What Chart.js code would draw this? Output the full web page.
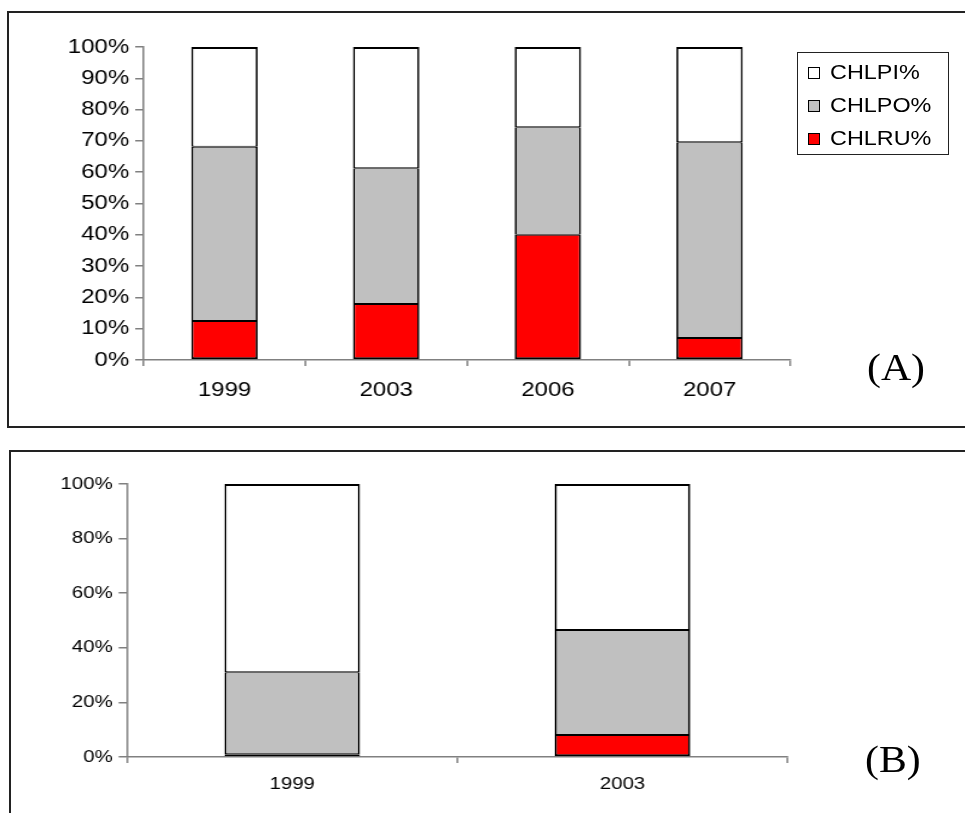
<!DOCTYPE html>
<html>
<head>
<meta charset="utf-8">
<script src="https://cdn.jsdelivr.net/npm/chart.js@4.4.0/dist/chart.umd.min.js"></script>
<style>
  body { margin: 0; background: #fff; width: 965px; height: 813px; overflow: hidden; position: relative; font-family: "Liberation Sans", Arial, sans-serif; }
  .panel { position: absolute; border: 2px solid #222; box-sizing: border-box; }
  #panelA { left: 7px; top: 11px; width: 990px; height: 417px; }
  #panelB { left: 9px; top: 450px; width: 990px; height: 400px; }
  canvas { position: absolute; transform-origin: 0 0; transform: scaleX(1.2); }
  #chartA { left: 8px; top: 12px; }
  #chartB { left: 10px; top: 451px; }
  .tag { position: absolute; font-family: "Liberation Serif", "Times New Roman", serif; font-size: 38px; line-height: 38px; color: #000; transform-origin: 0 0; transform: scaleX(1.1); }
  #legendA { position: absolute; left: 797px; top: 52px; width: 152px; height: 103px; border: 1.5px solid #222; box-sizing: border-box; }
  .item { position: absolute; left: 10px; height: 20px; }
  .sw { position: absolute; left: 0; top: 4px; width: 12px; height: 12px; border: 1.5px solid #000; box-sizing: border-box; }
  .lbl { position: absolute; left: 22px; top: -2px; font-size: 20px; line-height: 22px; white-space: nowrap; transform-origin: 0 0; transform: scaleX(1.17); }
</style>
</head>
<body>
<div class="panel" id="panelA"></div>
<div class="panel" id="panelB"></div>
<canvas id="chartA" width="798" height="415"></canvas>
<canvas id="chartB" width="796" height="362"></canvas>
<div id="legendA"></div>
<div class="tag" style="left:867px; top:348px;">(A)</div>
<div class="tag" style="left:865px; top:740px;">(B)</div>
<script>
// séries (percentuais)
const seriesNames = ['CHLRU%', 'CHLPO%', 'CHLPI%'];
const seriesColors = ['#ff0000', '#c0c0c0', '#ffffff'];

// Painel A
const anosA = ['1999', '2003', '2006', '2007'];
const chlruA = [12.5, 17.9, 40.0, 7.0];
const chlpoA = [55.6, 43.4, 34.4, 62.6];
const chlpiA = [31.9, 38.7, 25.6, 30.4];
const ticksA = [0, 10, 20, 30, 40, 50, 60, 70, 80, 90, 100];

// Painel B
const anosB = ['1999', '2003'];
const chlruB = [1.0, 8.1];
const chlpoB = [30.0, 38.4];
const chlpiB = [69.0, 53.5];
const ticksB = [0, 20, 40, 60, 80, 100];

// bordas: 1px nas junções internas (somam 2px), 2px nas extremidades
function bordaSegmento(i, n) {
  return { left: 1.7, right: 1.7, bottom: i === 0 ? 2 : 1, top: i === n - 1 ? 2 : 1 };
}

function montarDatasets(valores) {
  return valores.map((v, i) => ({
    label: seriesNames[i],
    data: v,
    backgroundColor: seriesColors[i],
    borderColor: '#000',
    borderWidth: bordaSegmento(i, valores.length),
    borderSkipped: false,
    barPercentage: 0.41,
    categoryPercentage: 1
  }));
}

function criarGrafico(id, labels, valores, ticks, cfg) {
  const ctx = document.getElementById(id).getContext('2d');
  return new Chart(ctx, {
    type: 'bar',
    data: { labels: labels, datasets: montarDatasets(valores) },
    options: {
      responsive: false,
      animation: false,
      devicePixelRatio: 1,
      layout: { padding: { left: 0, top: cfg.top, right: cfg.right, bottom: 0 } },
      plugins: { legend: { display: false }, tooltip: { enabled: false } },
      scales: {
        x: {
          stacked: true,
          offset: true,
          grid: { offset: true, drawOnChartArea: false, tickLength: 6, color: '#808080', lineWidth: 1.5 },
          border: { color: '#808080', width: 1.5 },
          ticks: { color: '#000', font: { family: 'Liberation Sans', size: cfg.font }, padding: cfg.xPad, maxRotation: 0 },
          afterFit: s => { s.height = cfg.xH; }
        },
        y: {
          stacked: true,
          min: 0,
          max: 100,
          afterBuildTicks: s => { s.ticks = ticks.map(v => ({ value: v })); },
          grid: { drawOnChartArea: false, tickLength: 7, color: '#808080', lineWidth: 1.5 },
          border: { color: '#808080', width: 1.5 },
          ticks: { color: '#000', font: { family: 'Liberation Sans', size: cfg.font }, padding: 5, callback: v => v + '%' },
          afterFit: s => { s.width = cfg.yW; }
        }
      }
    }
  });
}

criarGrafico('chartA', anosA, [chlruA, chlpoA, chlpiA], ticksA,
  { top: 35, right: 146, yW: 113, xH: 67, font: 20, xPad: 12 });
criarGrafico('chartB', anosB, [chlruB, chlpoB, chlpiB], ticksB,
  { top: 33, right: 148, yW: 97.5, xH: 56, font: 17, xPad: 11 });

// legenda do painel A (ordem invertida, como no original)
const legenda = document.getElementById('legendA');
const tops = [10, 43, 76];
seriesNames.slice().reverse().forEach((nome, i) => {
  const cor = seriesColors[seriesNames.length - 1 - i];
  const item = document.createElement('div');
  item.className = 'item';
  item.style.top = tops[i] + 'px';
  item.innerHTML = `<div class="sw" style="background:${cor}"></div><div class="lbl">${nome}</div>`;
  legenda.appendChild(item);
});
</script>
</body>
</html>
